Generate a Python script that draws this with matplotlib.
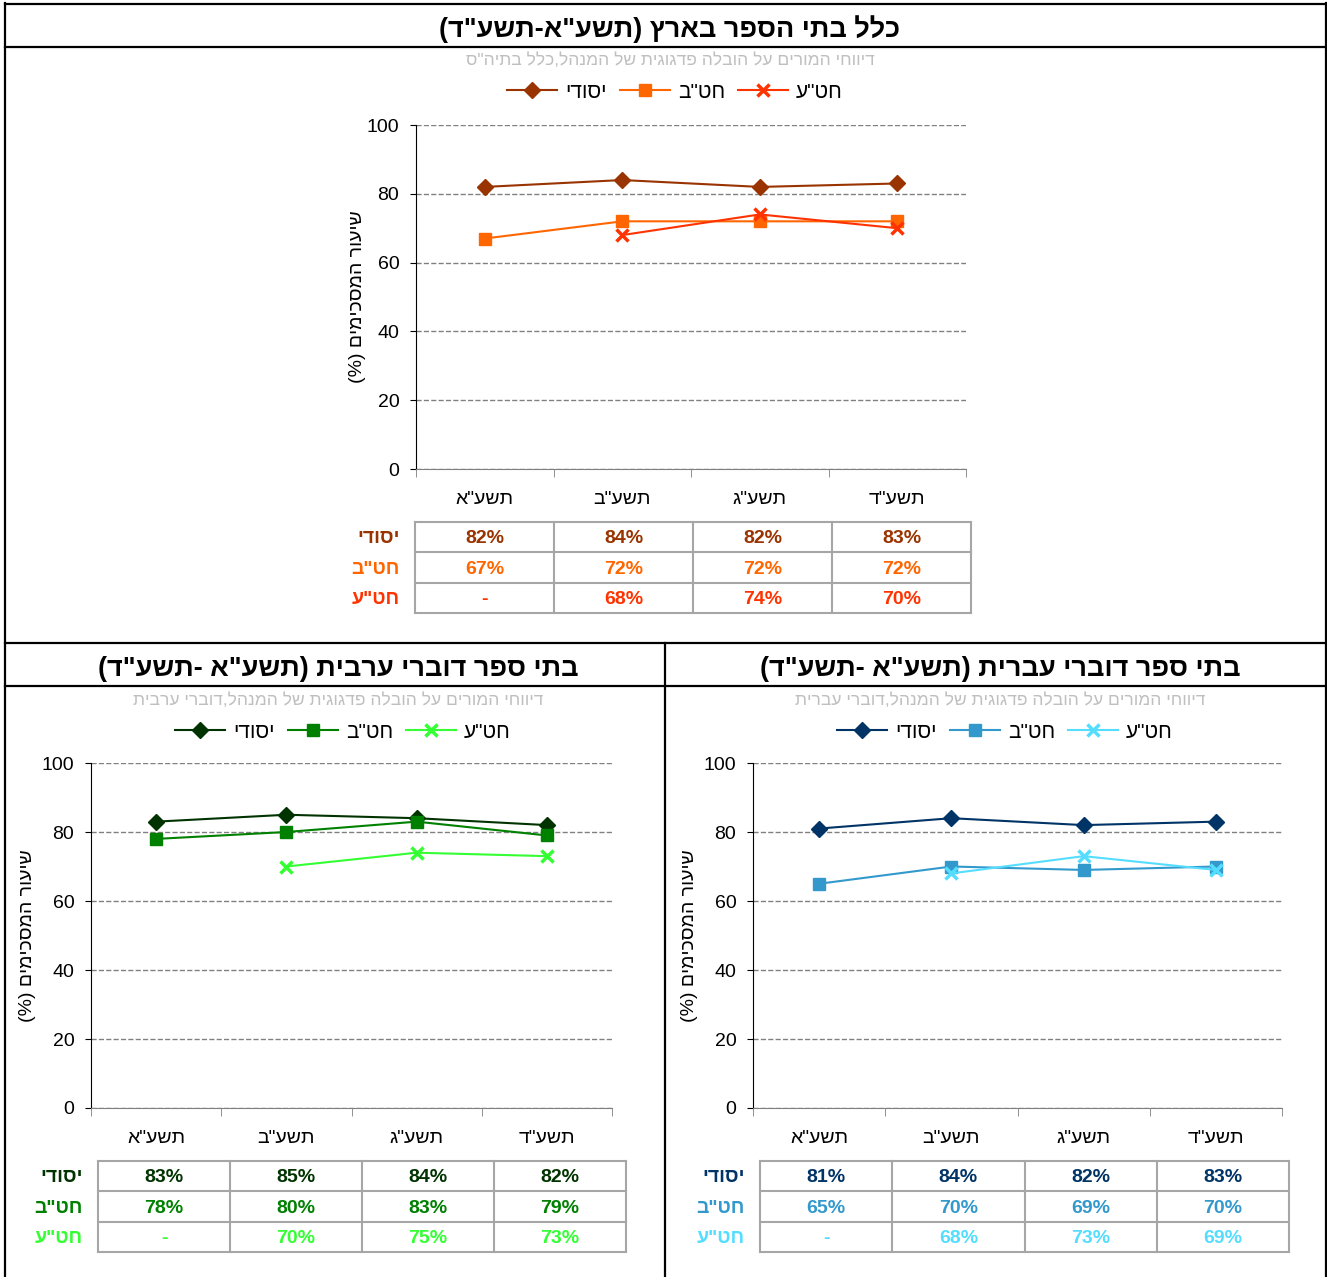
import numpy as np
import matplotlib
matplotlib.use('Agg')
import matplotlib.pyplot as plt
from matplotlib.lines import Line2D

plt.rcParams['font.family'] = ['Liberation Sans', 'DejaVu Sans']

W, H = 1327, 1277

# נתונים
years = ['תשע"א', 'תשע"ב', 'תשע"ג', 'תשע"ד']
series_names = ['יסודי', 'חט"ב', 'חט"ע']

all_yesodi = [82, 84, 82, 83]
all_hatab = [67, 72, 72, 72]
all_hatea = [None, 68, 74, 70]

arab_yesodi = [83, 85, 84, 82]
arab_hatab = [78, 80, 83, 79]
arab_hatea = [None, 70, 74, 73]
arab_hatea_table = [None, 70, 75, 73]

heb_yesodi = [81, 84, 82, 83]
heb_hatab = [65, 70, 69, 70]
heb_hatea = [None, 68, 73, 69]

title_all = 'כלל בתי הספר בארץ (תשע"א-תשע"ד)'
title_arab = 'בתי ספר דוברי ערבית (תשע"א -תשע"ד)'
title_heb = 'בתי ספר דוברי עברית (תשע"א -תשע"ד)'
sub_all = 'דיווחי המורים על הובלה פדגוגית של המנהל,כלל בתיה"ס'
sub_arab = 'דיווחי המורים על הובלה פדגוגית של המנהל,דוברי ערבית'
sub_heb = 'דיווחי המורים על הובלה פדגוגית של המנהל,דוברי עברית'
ylabel = 'שיעור המסכימים (%)'

colors_all = ['#993300', '#FF6600', '#FF3300']
colors_arab = ['#003300', '#008000', '#33FF33']
colors_heb = ['#003366', '#3399CC', '#55DDFF']


def rtl(s):
    # matplotlib לא הופך טקסט מימין לשמאל
    swap = {'(': ')', ')': '('}
    return ''.join(swap.get(c, c) for c in reversed(s))


def px(x, y):
    return x / W, 1 - y / H


fig = plt.figure(figsize=(W / 100, H / 100), dpi=100)


def panel(ax_box, tab_box, data, table_data, colors, cx, ty, title, sub, ylab_x):
    l, r, t, b = ax_box
    ax = fig.add_axes([l / W, 1 - b / H, (r - l) / W, (b - t) / H])
    x = np.arange(len(years))
    markers = ['D', 's', 'x']
    msizes = [8, 9, 9]
    handles = []
    for vals, c, m, ms, name in zip(data, colors, markers, msizes, series_names):
        y = np.array([np.nan if v is None else v for v in vals], float)
        h, = ax.plot(x, y, color=c, marker=m, markersize=ms, lw=1.5,
                     markeredgewidth=2.5 if m == 'x' else 1, label=rtl(name))
        handles.append(h)
    ax.set_xlim(-0.5, 3.5)
    ax.set_ylim(0, 100)
    ax.set_yticks(range(0, 101, 20))
    ax.yaxis.grid(True, ls='--', color='#808080', lw=1)
    ax.set_axisbelow(True)
    ax.set_xticks(x)
    ax.set_xticklabels([rtl(s) for s in years], fontsize=14)
    ax.set_xticks(np.arange(-0.5, 4, 1), minor=True)
    ax.tick_params(axis='x', which='major', length=0, pad=16)
    ax.tick_params(axis='x', which='minor', length=6, direction='out', color='#808080')
    ax.tick_params(axis='y', labelsize=14, length=4, pad=8)
    for s in ['top', 'right']:
        ax.spines[s].set_visible(False)
    ax.spines['left'].set_color('black')
    ax.spines['bottom'].set_color('#808080')

    fig.text(*px(ylab_x, (t + b) / 2), rtl(ylabel), rotation=90, fontsize=14,
             ha='center', va='center')
    fig.text(*px(cx, ty), rtl(title), fontsize=19.5, fontweight='bold',
             ha='center', va='center')
    fig.text(*px(cx, ty + 31), rtl(sub), fontsize=12.5, color='#BFBFBF',
             ha='center', va='center')
    fig.legend(handles=handles, loc='center', bbox_to_anchor=px(cx + 5, ty + 63),
               ncol=3, frameon=False, fontsize=15, handlelength=2.4,
               handletextpad=0.4, columnspacing=0.6)

    # טבלת נתונים
    tl, tr, tt, tb = tab_box
    axt = fig.add_axes([tl / W, 1 - tb / H, (tr - tl) / W, (tb - tt) / H])
    axt.set_xlim(0, 4)
    axt.set_ylim(3, 0)
    axt.axis('off')
    for i in range(5):
        axt.plot([i, i], [0, 3], color='#A6A6A6', lw=1.5, clip_on=False)
    for j in range(4):
        axt.plot([0, 4], [j, j], color='#A6A6A6', lw=1.5, clip_on=False)
    for j, (vals, c, name) in enumerate(zip(table_data, colors, series_names)):
        for i, v in enumerate(vals):
            txt = '-' if v is None else f'{v}%'
            axt.text(i + 0.5, j + 0.55, txt, color=c, fontsize=14,
                     fontweight='bold', ha='center', va='center')
        axt.annotate(rtl(name), (0, j + 0.55), xytext=(-11, 0),
                     textcoords='offset points', ha='right', va='center',
                     color=c, fontsize=14, fontweight='bold')


panel((416, 966, 125, 469), (415, 971, 522, 613),
      [all_yesodi, all_hatab, all_hatea], [all_yesodi, all_hatab, all_hatea],
      colors_all, 670, 29, title_all, sub_all, 357)
panel((91, 612, 763, 1108), (98, 626, 1161, 1252),
      [arab_yesodi, arab_hatab, arab_hatea], [arab_yesodi, arab_hatab, arab_hatea_table],
      colors_arab, 338, 669, title_arab, sub_arab, 28)
panel((753, 1282, 763, 1108), (760, 1289, 1161, 1252),
      [heb_yesodi, heb_hatab, heb_hatea], [heb_yesodi, heb_hatab, heb_hatea],
      colors_heb, 1000, 669, title_heb, sub_heb, 690)

# מסגרות
frame = [((5, 4), (1327, 4)), ((5, 47), (1327, 47)), ((5, 643), (1327, 643)),
         ((5, 686), (1327, 686)), ((5, 3), (5, 1277)), ((1326, 3), (1326, 1277)),
         ((665, 643), (665, 1277))]
for (x0, y0), (x1, y1) in frame:
    p0, p1 = px(x0, y0), px(x1, y1)
    fig.add_artist(Line2D([p0[0], p1[0]], [p0[1], p1[1]], transform=fig.transFigure,
                          color='black', lw=1.6))

fig.savefig('out.png', dpi=100)
